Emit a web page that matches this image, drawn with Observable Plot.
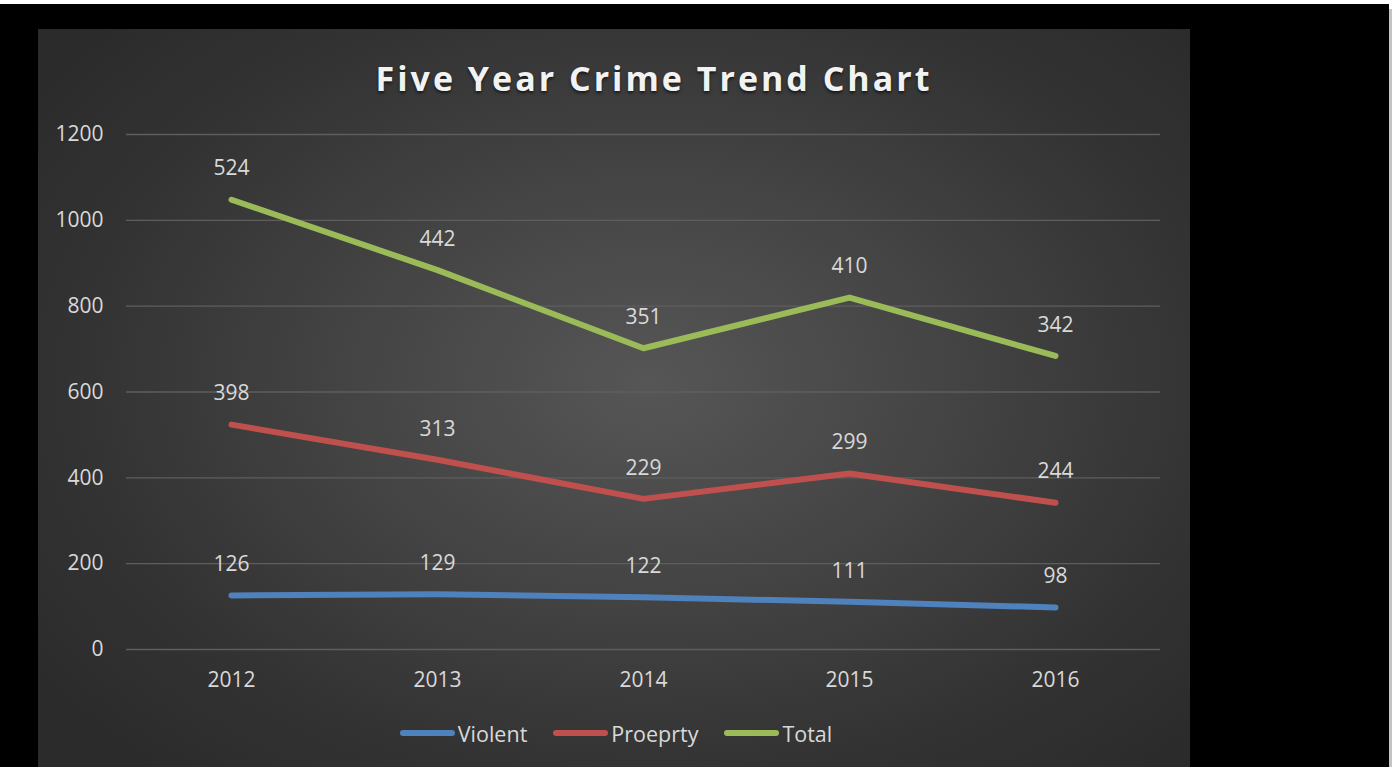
<!DOCTYPE html>
<html>
<head>
<meta charset="utf-8">
<script src="https://cdn.jsdelivr.net/npm/d3@7"></script>
<script src="https://cdn.jsdelivr.net/npm/@observablehq/plot@0.6"></script>
<style>
  html, body { margin: 0; padding: 0; background: #ffffff; width: 1396px; height: 767px; overflow: hidden; }
  #frame { position: absolute; left: 0; top: 4px; width: 1389px; height: 763px; background: #000; }
  #edge { position: absolute; left: 1389px; top: 9px; width: 3px; height: 758px; background: #c4c4c4; }
  #panel { position: absolute; left: 38px; top: 29px; width: 1152px; height: 738px; overflow: hidden;
    background: radial-gradient(ellipse 65% 70% at 53% 48%, #565656 0%, #444 40%, #333 75%, #2b2b2b 100%);
    font-family: "Open Sans", sans-serif; }
  #title { height: 80px; line-height: 98px; text-align: center; color: #f2f2f2; font-weight: 700; font-size: 34px;
    letter-spacing: 3px; text-shadow: 0 2px 3px rgba(0,0,0,0.6); padding-left: 80px; }
  #legend { display: flex; justify-content: center; align-items: center; height: 48px; color: #d9d9d9; font-size: 21.5px; margin-top: 0px; padding-left: 4px; }
  .item { display: flex; align-items: center; margin: 0 13px; }
  .sw { width: 55px; height: 6px; border-radius: 3px; margin-right: 3px; }
</style>
</head>
<body>
<div id="frame"></div>
<div id="edge"></div>
<div id="panel">
  <div id="title">Five Year Crime Trend Chart</div>
  <div id="chart"></div>
  <div id="legend"></div>
</div>
<script>
const years = ["2012", "2013", "2014", "2015", "2016"];
const seriesNames = ["Violent", "Proeprty", "Total"];
const violent = [126, 129, 122, 111, 98];
const property = [398, 313, 229, 299, 244];
const total = [524, 442, 351, 410, 342];
const colors = ["#4f81bd", "#c0504d", "#9bbb59"];
const yTicks = [0, 200, 400, 600, 800, 1000, 1200];

const seriesValues = [violent, property, total];
const data = [];
seriesNames.forEach((s, si) => {
  years.forEach((y, i) => data.push({ year: y, series: s, value: seriesValues[si][i] }));
});

const chart = Plot.plot({
  width: 1152,
  height: 600,
  marginTop: 25,
  marginBottom: 60,
  marginLeft: 88,
  marginRight: 30,
  style: { background: "transparent", color: "#d9d9d9", fontFamily: "Open Sans, sans-serif", fontSize: "21px" },
  x: { type: "point", domain: years, padding: 0.5, label: null, tickSize: 0 },
  y: { domain: [0, 1200], label: null, tickSize: 0 },
  color: { domain: seriesNames, range: colors },
  marks: [
    Plot.ruleY(yTicks, { stroke: "#5e5e5e", strokeWidth: 1.3 }),
    Plot.axisX({ tickSize: 0, tickPadding: 23, fill: "#d9d9d9", fontSize: 21, label: null }),
    Plot.axisY({ ticks: yTicks, tickFormat: d3.format("d"), tickSize: 0, tickPadding: 23, fill: "#d9d9d9", fontSize: 21, label: null }),
    Plot.lineY(data, Plot.stackY2({
      x: "year", y: "value", z: "series", stroke: "series", order: null,
      strokeWidth: 6, strokeLinecap: "round", strokeLinejoin: "round",
      style: "filter: drop-shadow(0px 3px 2px rgba(0,0,0,0.45))"
    })),
    Plot.text(data, Plot.stackY2({
      x: "year", y: "value", z: "series", order: null, text: d => String(d.value),
      dy: -31, fill: "#d9d9d9", fontSize: 21
    }))
  ]
});
document.getElementById("chart").appendChild(chart);

const legend = document.getElementById("legend");
seriesNames.forEach((s, i) => {
  const it = document.createElement("div");
  it.className = "item";
  const sw = document.createElement("div");
  sw.className = "sw";
  sw.style.background = colors[i];
  const t = document.createElement("span");
  t.textContent = s;
  it.appendChild(sw); it.appendChild(t);
  legend.appendChild(it);
});
</script>
</body>
</html>
